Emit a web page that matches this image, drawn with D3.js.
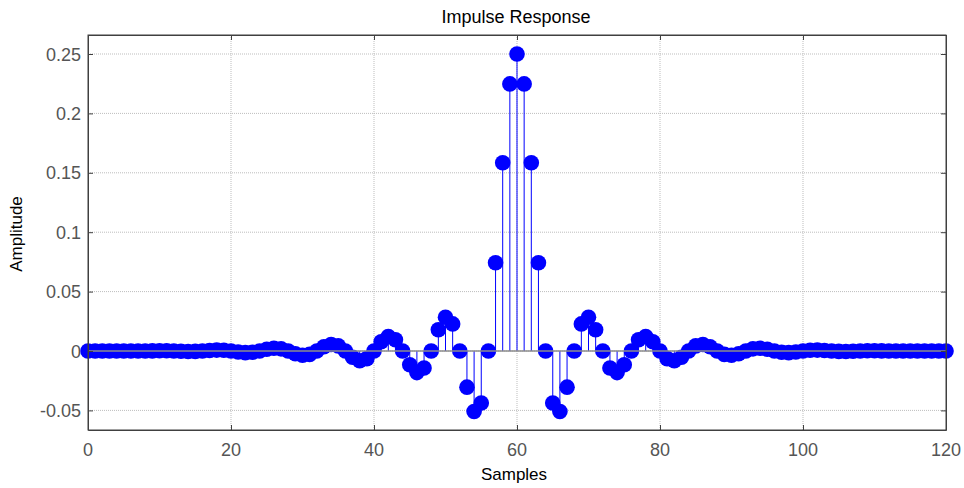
<!DOCTYPE html>
<html>
<head>
<meta charset="utf-8">
<script src="https://cdn.jsdelivr.net/npm/d3@7"></script>
<style>
body { margin: 0; background: #fff; }
svg { display: block; font-family: "Liberation Sans", Arial, sans-serif; }
.grid line { stroke: #bdbdbd; stroke-width: 1; stroke-dasharray: 1, 1; }
.tick-label { fill: #555; font-size: 18px; }
.axis-title { fill: #000; font-size: 17px; }
</style>
</head>
<body>
<svg id="chart"></svg>
<script>

// sample index 0..120 and the impulse response amplitude
var samples = d3.range(0, 121);
var amplitude = [
  0, 0, 0, 0, 0, -0.00003, -0.00005, -0.00005, 0, 0.0001,
  0.00017, 0.00015, 0, -0.00023, -0.00039, -0.00033, 0, 0.00046, 0.00077, 0.00063,
  0, -0.00084, -0.00137, -0.0011, 0, 0.00142, 0.00227, 0.00181, 0, -0.00228,
  -0.00361, -0.00285, 0, 0.00352, 0.00552, 0.00432, 0, -0.00528, -0.00824, -0.00643,
  0, 0.00782, 0.01219, 0.00951, 0, -0.01161, -0.01819, -0.01429, 0, 0.01784,
  0.02843, 0.02282, 0, -0.03043, -0.05094, -0.04377, 0, 0.07427, 0.15844, 0.22483,
  0.25,
  0.22483, 0.15844, 0.07427, 0, -0.04377, -0.05094, -0.03043, 0, 0.02282, 0.02843,
  0.01784, 0, -0.01429, -0.01819, -0.01161, 0, 0.00951, 0.01219, 0.00782, 0,
  -0.00643, -0.00824, -0.00528, 0, 0.00432, 0.00552, 0.00352, 0, -0.00285, -0.00361,
  -0.00228, 0, 0.00181, 0.00227, 0.00142, 0, -0.0011, -0.00137, -0.00084, 0,
  0.00063, 0.00077, 0.00046, 0, -0.00033, -0.00039, -0.00023, 0, 0.00015, 0.00017,
  0.0001, 0, -0.00005, -0.00005, -0.00003, 0, 0, 0, 0, 0
];

var xTicks = [0, 20, 40, 60, 80, 100, 120];
var yTicks = [-0.05, 0, 0.05, 0.1, 0.15, 0.2, 0.25];
var yTickLabels = ["-0.05", "0", "0.05", "0.1", "0.15", "0.2", "0.25"];

var width = 964, height = 488;
var plotLeft = 88, plotRight = 946, plotTop = 35, plotBottom = 430;

var svg = d3.select("#chart")
    .attr("width", width)
    .attr("height", height);

var x = d3.scaleLinear().domain([0, 120]).range([plotLeft, plotRight]);
var y = d3.scaleLinear().domain([-0.0665, 0.266]).range([plotBottom, plotTop]);

// grid
var grid = svg.append("g").attr("class", "grid");
grid.selectAll("line.gx")
    .data(xTicks.slice(1, -1))
  .enter().append("line")
    .attr("class", "gx")
    .attr("x1", function(d) { return x(d); })
    .attr("x2", function(d) { return x(d); })
    .attr("y1", plotTop)
    .attr("y2", plotBottom);
grid.selectAll("line.gy")
    .data(yTicks)
  .enter().append("line")
    .attr("class", "gy")
    .attr("x1", plotLeft)
    .attr("x2", plotRight)
    .attr("y1", function(d) { return y(d); })
    .attr("y2", function(d) { return y(d); });

var data = samples.map(function(s, i) { return { x: s, y: amplitude[i] }; });

// stems
svg.append("g").selectAll("line")
    .data(data)
  .enter().append("line")
    .attr("x1", function(d) { return x(d.x); })
    .attr("x2", function(d) { return x(d.x); })
    .attr("y1", y(0))
    .attr("y2", function(d) { return y(d.y); })
    .attr("stroke", "#0000ff")
    .attr("stroke-width", 1);

// markers
svg.append("g").selectAll("circle")
    .data(data)
  .enter().append("circle")
    .attr("cx", function(d) { return x(d.x); })
    .attr("cy", function(d) { return y(d.y); })
    .attr("r", 7.8)
    .attr("fill", "#0000ff");

// baseline (drawn over the markers like matlab does)
svg.append("line")
    .attr("x1", plotLeft)
    .attr("x2", plotRight)
    .attr("y1", y(0))
    .attr("y2", y(0))
    .attr("stroke", "#8c8c8c")
    .attr("stroke-width", 1.5);

// axes box with inward ticks
var xAxisB = d3.axisBottom(x).tickValues(xTicks).tickSizeInner(-5).tickSizeOuter(0).tickFormat("");
var xAxisT = d3.axisTop(x).tickValues(xTicks).tickSizeInner(-5).tickSizeOuter(0).tickFormat("");
var yAxisL = d3.axisLeft(y).tickValues(yTicks).tickSizeInner(-5).tickSizeOuter(0).tickFormat("");
var yAxisR = d3.axisRight(y).tickValues(yTicks).tickSizeInner(-5).tickSizeOuter(0).tickFormat("");

svg.append("g").attr("transform", "translate(0," + plotBottom + ")").call(xAxisB);
svg.append("g").attr("transform", "translate(0," + plotTop + ")").call(xAxisT);
svg.append("g").attr("transform", "translate(" + plotLeft + ",0)").call(yAxisL);
svg.append("g").attr("transform", "translate(" + plotRight + ",0)").call(yAxisR);
svg.selectAll(".domain, .tick line").attr("stroke", "#404040").attr("stroke-width", 1);

svg.append("rect")
    .attr("x", plotLeft).attr("y", plotTop)
    .attr("width", plotRight - plotLeft).attr("height", plotBottom - plotTop)
    .attr("fill", "none")
    .attr("stroke", "#404040")
    .attr("stroke-width", 1);

// tick labels
svg.append("g").selectAll("text")
    .data(xTicks)
  .enter().append("text")
    .attr("class", "tick-label")
    .attr("x", function(d) { return x(d); })
    .attr("y", 456)
    .attr("text-anchor", "middle")
    .text(function(d) { return d; });

svg.append("g").selectAll("text")
    .data(yTicks)
  .enter().append("text")
    .attr("class", "tick-label")
    .attr("x", 81)
    .attr("y", function(d) { return y(d) + 6.5; })
    .attr("text-anchor", "end")
    .text(function(d, i) { return yTickLabels[i]; });

// titles
svg.append("text")
    .attr("class", "axis-title")
    .attr("x", 516).attr("y", 23)
    .attr("text-anchor", "middle")
    .style("font-size", "18px")
    .text("Impulse Response");

svg.append("text")
    .attr("class", "axis-title")
    .attr("x", 514).attr("y", 480)
    .attr("text-anchor", "middle")
    .text("Samples");

svg.append("text")
    .attr("class", "axis-title")
    .attr("transform", "translate(22,234) rotate(-90)")
    .attr("text-anchor", "middle")
    .text("Amplitude");

</script>
</body>
</html>
